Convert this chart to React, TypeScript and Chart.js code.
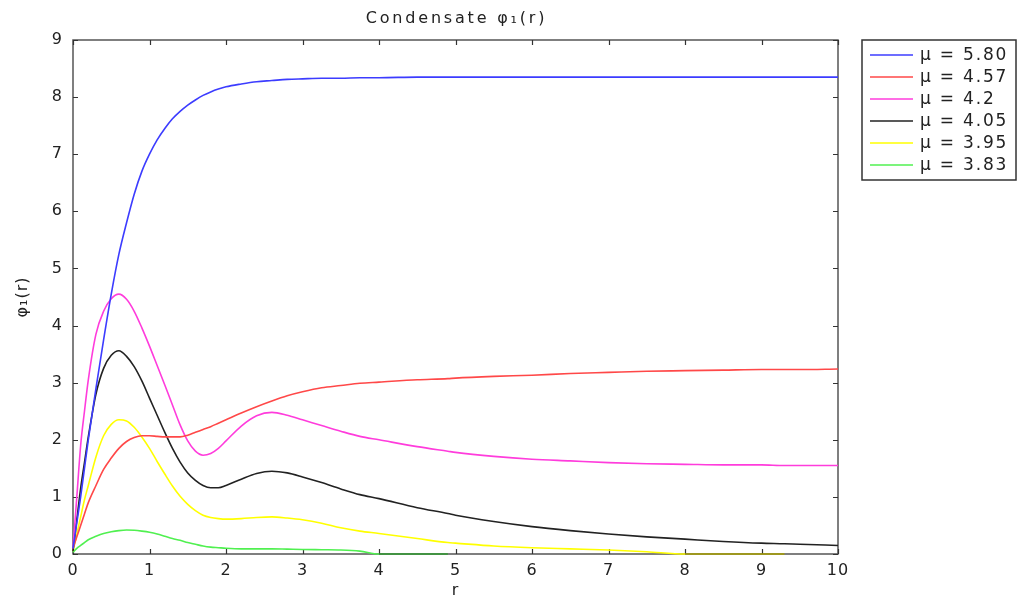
import React, { useEffect, useRef } from 'react';
import { Chart, registerables } from 'chart.js';

Chart.register(...registerables);

// radial coordinate r
const rValues = [0, 0.05, 0.1, 0.15, 0.2, 0.3, 0.4, 0.5, 0.6, 0.7, 0.8, 0.9, 1.0, 1.1, 1.2, 1.3, 1.4, 1.5, 1.6, 1.7, 1.8, 1.9, 2.0, 2.2, 2.4, 2.6, 2.8, 3.0, 3.25, 3.5, 3.75, 4.0, 4.5, 4.9, 5.0, 5.5, 6.0, 6.5, 7.0, 7.5, 8.0, 8.5, 9.0, 9.3, 9.5, 10.0];

const mu580 = [0.1, 0.55, 1.0, 1.5, 2.0, 2.9, 3.75, 4.55, 5.25, 5.8, 6.3, 6.7, 7.0, 7.25, 7.45, 7.62, 7.75, 7.86, 7.95, 8.03, 8.09, 8.14, 8.18, 8.23, 8.27, 8.29, 8.31, 8.32, 8.33, 8.33, 8.34, 8.34, 8.35, 8.35, 8.35, 8.35, 8.35, 8.35, 8.35, 8.35, 8.35, 8.35, 8.35, 8.35, 8.35, 8.35];
const mu457 = [0.1, 0.3, 0.5, 0.7, 0.9, 1.2, 1.48, 1.68, 1.85, 1.97, 2.04, 2.07, 2.07, 2.06, 2.05, 2.05, 2.05, 2.08, 2.13, 2.18, 2.23, 2.29, 2.35, 2.47, 2.58, 2.68, 2.77, 2.84, 2.91, 2.95, 2.99, 3.01, 3.05, 3.07, 3.08, 3.11, 3.13, 3.16, 3.18, 3.2, 3.21, 3.22, 3.23, 3.23, 3.23, 3.24];
const mu420 = [0.1, 1.0, 1.9, 2.5, 3.05, 3.85, 4.25, 4.47, 4.55, 4.46, 4.25, 3.96, 3.64, 3.3, 2.96, 2.61, 2.26, 1.98, 1.8, 1.73, 1.76, 1.85, 1.98, 2.24, 2.42, 2.48, 2.43, 2.35, 2.25, 2.15, 2.06, 2.0, 1.88, 1.8, 1.78, 1.71, 1.66, 1.63, 1.6, 1.58, 1.57, 1.56, 1.56, 1.55, 1.55, 1.55];
const mu405 = [0.05, 0.6, 1.15, 1.6, 2.05, 2.8, 3.25, 3.48, 3.56, 3.46, 3.28, 3.03, 2.73, 2.43, 2.13, 1.85, 1.61, 1.42, 1.29, 1.2, 1.16, 1.16, 1.2, 1.31, 1.41, 1.45, 1.42, 1.35, 1.25, 1.14, 1.04, 0.97, 0.81, 0.71, 0.68, 0.57, 0.48, 0.41, 0.35, 0.3, 0.26, 0.22, 0.19, 0.18, 0.17, 0.15];
const mu395 = [0.05, 0.35, 0.65, 0.95, 1.2, 1.7, 2.07, 2.27, 2.35, 2.33, 2.22, 2.05, 1.85, 1.62, 1.4, 1.19, 1.01, 0.87, 0.76, 0.68, 0.64, 0.62, 0.61, 0.62, 0.64, 0.65, 0.63, 0.6, 0.54, 0.46, 0.4, 0.36, 0.27, 0.2, 0.19, 0.14, 0.11, 0.09, 0.07, 0.04, 0, 0, 0, 0, null, null];
const mu383 = [0.03, 0.1, 0.15, 0.2, 0.25, 0.31, 0.36, 0.39, 0.41, 0.42, 0.415, 0.4, 0.38, 0.35, 0.31, 0.27, 0.24, 0.2, 0.17, 0.14, 0.12, 0.11, 0.1, 0.09, 0.09, 0.09, 0.085, 0.08, 0.075, 0.07, 0.05, 0, 0, 0, null, null, null, null, null, null, null, null, null, null, null, null];

const seriesLabels = ['μ = 5.80', 'μ = 4.57', 'μ = 4.2', 'μ = 4.05', 'μ = 3.95', 'μ = 3.83'];
const seriesValues = [mu580, mu457, mu420, mu405, mu395, mu383];
const seriesColors = ['#3c3cff', '#ff4848', '#ff3cdc', '#222222', '#ffff00', '#50f050'];
const onAxisColors = ['#3c3cff', '#ff4848', '#ff3cdc', '#222222', '#a8a000', '#2f9a2f'];

const chartTitle = 'Condensate φ₁(r)';
const xTicksMin = 0, xTicksMax = 10;
const yTicksMin = 0, yTicksMax = 9;

const FONT = 'DejaVu Sans';

const framePlugin = {
  id: 'frame',
  beforeDraw(chart: any) {
    chart.ctx.letterSpacing = '1px';
  },
  beforeDatasetsDraw(chart: any) {
    const { ctx, chartArea: a, scales } = chart;
    ctx.save();
    ctx.strokeStyle = '#555555';
    ctx.lineWidth = 1.5;
    ctx.strokeRect(a.left, a.top, a.right - a.left, a.bottom - a.top);
    ctx.lineWidth = 1.2;
    ctx.strokeStyle = '#333333';
    const len = 5;
    ctx.beginPath();
    scales.x.ticks.forEach((t: any) => {
      const px = Math.round(scales.x.getPixelForValue(t.value)) + 0.5;
      ctx.moveTo(px, a.bottom);
      ctx.lineTo(px, a.bottom - len);
      ctx.moveTo(px, a.top);
      ctx.lineTo(px, a.top + len);
    });
    scales.y.ticks.forEach((t: any) => {
      const py = Math.round(scales.y.getPixelForValue(t.value)) + 0.5;
      ctx.moveTo(a.left, py);
      ctx.lineTo(a.left + len, py);
      ctx.moveTo(a.right, py);
      ctx.lineTo(a.right - len, py);
    });
    ctx.stroke();
    ctx.restore();
  },
  afterDraw(chart: any) {
    const { ctx, chartArea: a } = chart;
    ctx.save();
    // title, centred over the plot area
    ctx.letterSpacing = '2.8px';
    ctx.font = `16px "${FONT}"`;
    ctx.fillStyle = '#222222';
    ctx.textAlign = 'center';
    ctx.textBaseline = 'middle';
    ctx.fillText(chartTitle, (a.left + a.right) / 2 + 1, 19);

    // legend box
    const x0 = a.right + 24;
    const y0 = a.top;
    const w = 154;
    const h = 140;
    ctx.letterSpacing = '1.8px';
    ctx.fillStyle = '#ffffff';
    ctx.fillRect(x0, y0, w, h);
    ctx.strokeStyle = '#333333';
    ctx.lineWidth = 1.5;
    ctx.strokeRect(x0, y0, w, h);
    ctx.font = `17px "${FONT}"`;
    ctx.textBaseline = 'middle';
    ctx.textAlign = 'left';
    chart.data.datasets.forEach((ds: any, i: number) => {
      const y = y0 + 15 + i * 22;
      ctx.strokeStyle = ds.borderColor;
      ctx.lineWidth = 1.5;
      ctx.beginPath();
      ctx.moveTo(x0 + 8, y);
      ctx.lineTo(x0 + 51, y);
      ctx.stroke();
      ctx.fillStyle = '#222222';
      ctx.fillText(ds.label, x0 + 58, y + 1);
    });
    ctx.restore();
  },
};

export default function App() {
  const canvasRef = useRef<HTMLCanvasElement | null>(null);

  useEffect(() => {
    const canvas = canvasRef.current;
    if (!canvas) return;
    const datasets = seriesValues.map((vals, si) => ({
      label: seriesLabels[si],
      data: rValues.map((r, i) => ({ x: r, y: vals[i] })),
      borderColor: seriesColors[si],
      backgroundColor: seriesColors[si],
      borderWidth: 1.6,
      pointRadius: 0,
      cubicInterpolationMode: 'monotone' as const,
      spanGaps: false,
      clip: 3,
      segment: {
        borderColor: (ctx: any) =>
          ctx.p0.parsed.y === 0 && ctx.p1.parsed.y === 0 ? onAxisColors[si] : undefined,
      },
    }));

    const chart = new Chart(canvas, {
      type: 'line',
      data: { datasets },
      options: {
        animation: false,
        responsive: false,
        devicePixelRatio: 1,
        layout: { padding: { left: 0, right: 183, top: 40, bottom: 0 } },
        plugins: {
          legend: { display: false },
          tooltip: { enabled: false },
          title: { display: false },
        },
        scales: {
          x: {
            type: 'linear',
            min: xTicksMin,
            max: xTicksMax,
            grid: { display: false, drawTicks: false },
            border: { display: false },
            ticks: {
              stepSize: 1,
              padding: 7,
              color: '#222222',
              font: { family: FONT, size: 16 },
            },
            title: {
              display: true,
              text: 'r',
              color: '#222222',
              font: { family: FONT, size: 16 },
              padding: { top: 0, bottom: 1 },
            },
            afterFit(scale: any) {
              scale.height = 47;
            },
          },
          y: {
            type: 'linear',
            min: yTicksMin,
            max: yTicksMax,
            grid: { display: false, drawTicks: false },
            border: { display: false },
            ticks: {
              stepSize: 1,
              padding: 10,
              color: '#222222',
              font: { family: FONT, size: 16 },
            },
            title: {
              display: true,
              text: 'φ₁(r)',
              color: '#222222',
              font: { family: FONT, size: 16 },
              padding: { top: 13, bottom: 0 },
            },
            afterFit(scale: any) {
              scale.width = 73;
            },
          },
        },
      },
      plugins: [framePlugin],
    });
    return () => chart.destroy();
  }, []);

  return (
    <div style={{ position: 'fixed', left: 0, top: 0, width: 1021, height: 601, background: '#ffffff' }}>
      <canvas ref={canvasRef} width={1021} height={601} style={{ width: 1021, height: 601, display: 'block' }} />
    </div>
  );
}
